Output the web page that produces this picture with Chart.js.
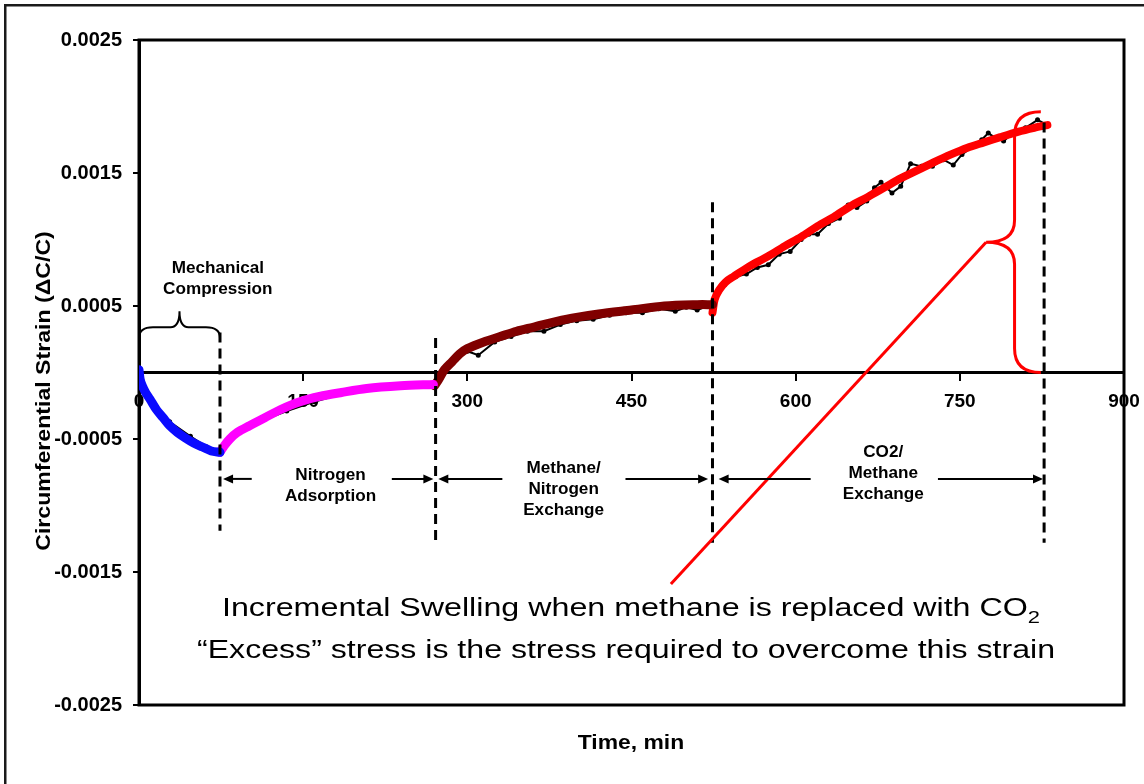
<!DOCTYPE html>
<html>
<head>
<meta charset="utf-8">
<script src="https://cdn.jsdelivr.net/npm/chart.js@4.4.1/dist/chart.umd.min.js"></script>
<style>
  html, body { margin: 0; padding: 0; background: #fff; }
  #wrap { width: 1144px; height: 784px; position: relative; }
</style>
</head>
<body>
<div id="wrap"><canvas id="strainChart"></canvas></div>
<script>
// fitted curves, one per test phase (time in min, strain dC/C)
const blueTime = [0, 1, 3, 6, 10, 16, 22, 28, 35, 42, 50, 58, 66, 74];
const blueStrain = [0.00002, -0.00005, -0.0001, -0.00015, -0.0002, -0.00028, -0.00034, -0.0004, -0.00045, -0.00049, -0.00053, -0.00056, -0.00059, -0.0006];

const magentaTime = [74, 78, 83, 90, 101, 115, 129, 147, 165, 185, 208, 239, 269];
const magentaStrain = [-0.0006, -0.00055, -0.0005, -0.00045, -0.0004, -0.00034, -0.00028, -0.00022, -0.00018, -0.00015, -0.00012, -0.0001, -0.00009];

const maroonTime = [270, 274, 279, 286, 293, 300, 315, 330, 345, 360, 390, 420, 450, 480, 510, 524];
const maroonStrain = [-0.0001, -0.00005, 0.00002, 0.00008, 0.00014, 0.00018, 0.00023, 0.00027, 0.00031, 0.00034, 0.0004, 0.00044, 0.00047, 0.0005, 0.00051, 0.00051];

const redTime = [524, 526, 530, 536, 543, 558, 574, 590, 605, 620, 635, 650, 666, 681, 696, 711, 726, 742, 757, 772, 787, 803, 818, 830];
const redStrain = [0.00045, 0.00055, 0.00062, 0.00068, 0.00072, 0.0008, 0.00087, 0.00095, 0.00102, 0.0011, 0.00117, 0.00125, 0.00132, 0.00139, 0.00146, 0.00152, 0.00158, 0.00164, 0.00169, 0.00173, 0.00177, 0.00181, 0.00184, 0.00186];

// measured (noisy) data
const measTime = [0, 4, 12, 28, 47, 62, 74, 90, 110, 135, 160, 190, 220, 250, 268, 272, 280, 290, 300, 310, 325, 340, 355, 370, 385, 400, 415, 430, 445, 460, 475, 490, 500, 510, 520, 524, 528, 535, 545, 555, 565, 575, 585, 595, 605, 612, 620, 630, 640, 648, 656, 665, 672, 678, 688, 696, 705, 715, 725, 735, 744, 752, 762, 770, 776, 783, 790, 800, 810, 821, 830];
const measStrain = [0, -0.00012, -0.00024, -0.00037, -0.00048, -0.00056, -0.0006, -0.00046, -0.00037, -0.00029, -0.00022, -0.00015, -0.00012, -0.0001, -0.00009, -0.00009, 0.00002, 0.0001, 0.00016, 0.00013, 0.00023, 0.00027, 0.00031, 0.00031, 0.00036, 0.00039, 0.0004, 0.00043, 0.00045, 0.00045, 0.00048, 0.00046, 0.00049, 0.00047, 0.0005, 0.0005, 0.00058, 0.00066, 0.00072, 0.00074, 0.00079, 0.00081, 0.00089, 0.00091, 0.001, 0.00104, 0.00104, 0.00112, 0.00116, 0.00126, 0.00124, 0.00129, 0.00139, 0.00143, 0.00135, 0.0014, 0.00157, 0.00155, 0.00155, 0.0016, 0.00156, 0.00164, 0.0017, 0.00175, 0.0018, 0.00176, 0.00174, 0.00181, 0.00184, 0.0019, 0.00186];

// phase boundaries (dashed lines)
const phaseTimes = [74, 271, 524, 827];
const phaseTop = [0.0003, 0.00026, 0.00128, 0.00188];
const phaseBottom = [-0.00119, -0.00127, -0.00128, -0.00128];

// phase labels and their arrows
const phaseLabels = [['Nitrogen', 'Adsorption'], ['Methane/', 'Nitrogen', 'Exchange'], ['CO2/', 'Methane', 'Exchange']];
const phaseLabelTime = [175, 388, 680];
const phaseLabelStrain = [-0.000856, -0.000878, -0.000758];
const arrowFrom = [103, 231, 332, 444.5, 613.7, 730];
const arrowTip = [76.8, 269, 273.5, 520, 529.6, 826];
const arrowStrain = -0.0008;

// red pointer from the note to the swelling brace
const pointerTime = [486, 774];
const pointerStrain = [-0.00159, 0.00098];

const yTickValues = [-0.0025, -0.0015, -0.0005, 0.0005, 0.0015, 0.0025];

const FONT = '"Liberation Sans", Arial, sans-serif';

const toPoints = (xs, ys) => xs.map((x, i) => ({ x: x, y: ys[i] }));

const fitLine = (data, color, width) => ({
  data: data,
  showLine: true,
  borderColor: color,
  borderWidth: width,
  borderCapStyle: 'round',
  borderJoinStyle: 'round',
  pointRadius: 0,
  tension: 0.3,
  order: 1
});

const drawStretched = (ctx, text, x, y, font, sx, align) => {
  ctx.save();
  ctx.font = font;
  ctx.textBaseline = 'middle';
  ctx.textAlign = align || 'center';
  ctx.translate(x, y);
  ctx.scale(sx, 1);
  ctx.fillText(text, 0, 0);
  ctx.restore();
};

const drawArrow = (ctx, fromX, tipX, y) => {
  const dir = tipX > fromX ? 1 : -1;
  ctx.beginPath();
  ctx.moveTo(fromX, y);
  ctx.lineTo(tipX - dir * 6, y);
  ctx.stroke();
  ctx.beginPath();
  ctx.moveTo(tipX, y);
  ctx.lineTo(tipX - dir * 10, y - 4.5);
  ctx.lineTo(tipX - dir * 10, y + 4.5);
  ctx.closePath();
  ctx.fill();
};

const pageFrame = {
  id: 'pageFrame',
  beforeDraw(chart) {
    const { ctx } = chart;
    ctx.save();
    ctx.fillStyle = '#fff';
    ctx.fillRect(0, 0, chart.width, chart.height);
    ctx.fillStyle = '#1a1a1a';
    ctx.fillRect(4, 4, chart.width - 4, 2.5);
    ctx.fillRect(4, 4, 2.5, chart.height - 4);
    ctx.restore();
  },
  beforeDatasetsDraw(chart) {
    const { ctx, chartArea } = chart;
    ctx.save();
    ctx.strokeStyle = '#000';
    ctx.lineWidth = 3;
    ctx.strokeRect(chartArea.left, chartArea.top, chartArea.right - chartArea.left, chartArea.bottom - chartArea.top);
    ctx.restore();
  }
};

const annotations = {
  id: 'annotations',
  afterDatasetsDraw(chart) {
    const { ctx } = chart;
    const x = chart.scales.x;
    const y = chart.scales.y;
    ctx.save();
    ctx.fillStyle = '#000';
    ctx.strokeStyle = '#000';
    ctx.lineWidth = 2;

    // arrows between the phase boundaries
    arrowFrom.forEach((t, i) => {
      drawArrow(ctx, x.getPixelForValue(t), x.getPixelForValue(arrowTip[i]), y.getPixelForValue(arrowStrain));
    });

    // phase labels
    phaseLabels.forEach((lines, i) => {
      const cx = x.getPixelForValue(phaseLabelTime[i]);
      const cy = y.getPixelForValue(phaseLabelStrain[i]);
      lines.forEach((line, j) => {
        drawStretched(ctx, line, cx, cy + (j - (lines.length - 1) / 2) * 21, 'bold 16px ' + FONT, 1.07);
      });
    });

    // brace over the mechanical compression step
    const bx0 = x.getPixelForValue(0);
    const bx1 = x.getPixelForValue(74);
    const bxm = x.getPixelForValue(37);
    const byEnd = y.getPixelForValue(0.00026);
    const byBase = y.getPixelForValue(0.00034);
    const byPeak = y.getPixelForValue(0.00046);
    ctx.beginPath();
    ctx.moveTo(bx0, byEnd);
    ctx.quadraticCurveTo(bx0, byBase, bx0 + 14, byBase);
    ctx.lineTo(bxm - 9, byBase);
    ctx.quadraticCurveTo(bxm, byBase, bxm, byPeak);
    ctx.quadraticCurveTo(bxm, byBase, bxm + 9, byBase);
    ctx.lineTo(bx1 - 14, byBase);
    ctx.quadraticCurveTo(bx1, byBase, bx1, byEnd);
    ctx.stroke();
    drawStretched(ctx, 'Mechanical', x.getPixelForValue(72), y.getPixelForValue(0.000781), 'bold 16px ' + FONT, 1.07);
    drawStretched(ctx, 'Compression', x.getPixelForValue(72), y.getPixelForValue(0.000623), 'bold 16px ' + FONT, 1.07);

    // red brace marking the incremental swelling
    const rxR = x.getPixelForValue(824);
    const rxS = x.getPixelForValue(800);
    const rxT = x.getPixelForValue(774);
    const ryT = y.getPixelForValue(0.00196);
    const ryM = y.getPixelForValue(0.00098);
    const ryB = y.getPixelForValue(0);
    ctx.strokeStyle = '#ff0000';
    ctx.lineWidth = 3;
    ctx.beginPath();
    ctx.moveTo(rxR, ryT);
    ctx.quadraticCurveTo(rxS, ryT, rxS, ryT + 24);
    ctx.lineTo(rxS, ryM - 22);
    ctx.quadraticCurveTo(rxS, ryM, rxT, ryM);
    ctx.quadraticCurveTo(rxS, ryM, rxS, ryM + 22);
    ctx.lineTo(rxS, ryB - 24);
    ctx.quadraticCurveTo(rxS, ryB, rxR, ryB);
    ctx.stroke();

    // note under the curves
    ctx.fillStyle = '#000';
    ctx.textBaseline = 'alphabetic';
    ctx.textAlign = 'left';
    const main1 = 'Incremental Swelling when methane is replaced with CO';
    const main2 = '\u201CExcess\u201D stress is the stress required to overcome this strain';
    ctx.font = '25px ' + FONT;
    const w1 = ctx.measureText(main1).width;
    const w2 = ctx.measureText(main2).width;
    ctx.font = '17px ' + FONT;
    const wSub = ctx.measureText('2').width;
    const sx1 = 818 / (w1 + wSub);
    const sx2 = 858 / w2;
    ctx.save();
    ctx.translate(222, 616);
    ctx.scale(sx1, 1);
    ctx.font = '25px ' + FONT;
    ctx.fillText(main1, 0, 0);
    ctx.font = '17px ' + FONT;
    ctx.fillText('2', w1, 7);
    ctx.restore();
    ctx.save();
    ctx.translate(197, 658);
    ctx.scale(sx2, 1);
    ctx.font = '25px ' + FONT;
    ctx.fillText(main2, 0, 0);
    ctx.restore();

    // axis titles
    drawStretched(ctx, 'Time, min', 631, 743, 'bold 21px ' + FONT, 1.09);
    ctx.save();
    ctx.translate(44, 391);
    ctx.rotate(-Math.PI / 2);
    drawStretched(ctx, 'Circumferential Strain (\u0394C/C)', 0, 0, 'bold 21px ' + FONT, 1.1);
    ctx.restore();

    ctx.restore();
  }
};

const datasets = [
  fitLine(toPoints(blueTime, blueStrain), '#0a0aff', 9),
  fitLine(toPoints(magentaTime, magentaStrain), '#ff00ff', 9),
  fitLine(toPoints(maroonTime, maroonStrain), '#800000', 9),
  fitLine(toPoints(redTime, redStrain), '#ff0000', 8),
  {
    data: toPoints(measTime, measStrain),
    showLine: true,
    borderColor: '#000',
    borderWidth: 2,
    pointRadius: 1.5,
    pointBackgroundColor: '#000',
    pointBorderColor: '#000',
    order: 2
  },
  {
    data: toPoints(pointerTime, pointerStrain),
    showLine: true,
    borderColor: '#ff0000',
    borderWidth: 3,
    pointRadius: 0,
    order: 0
  }
];

phaseTimes.forEach((t, i) => {
  datasets.push({
    data: [{ x: t, y: phaseTop[i] }, { x: t, y: phaseBottom[i] }],
    showLine: true,
    borderColor: '#000',
    borderWidth: 3,
    borderDash: [10, 6],
    pointRadius: 0,
    order: 0
  });
});

new Chart(document.getElementById('strainChart'), {
  type: 'scatter',
  data: { datasets: datasets },
  plugins: [pageFrame, annotations],
  options: {
    responsive: true,
    maintainAspectRatio: false,
    animation: false,
    layout: { padding: { left: 0, top: 40, right: 20, bottom: 79 } },
    plugins: {
      legend: { display: false },
      tooltip: { enabled: false }
    },
    scales: {
      x: {
        type: 'linear',
        min: 0,
        max: 900,
        position: { y: 0 },
        afterFit: (scale) => {
          scale.paddingLeft = 0;
          scale.paddingRight = 0;
        },
        ticks: {
          stepSize: 150,
          color: '#000',
          padding: 11,
          font: { family: FONT, size: 19, weight: 'bold' },
          maxRotation: 0
        },
        grid: { drawOnChartArea: false, drawTicks: true, tickLength: 7, color: '#000', lineWidth: 2 },
        border: { display: true, color: '#000', width: 3 }
      },
      y: {
        type: 'linear',
        min: -0.0025,
        max: 0.0025,
        afterBuildTicks: (scale) => {
          scale.ticks = yTickValues.map((v) => ({ value: v }));
        },
        afterFit: (scale) => {
          scale.width = 139;
        },
        ticks: {
          color: '#000',
          padding: 11,
          font: { family: FONT, size: 20, weight: 'bold' },
          callback: (v) => Number(v).toFixed(4)
        },
        grid: { drawOnChartArea: false, drawTicks: true, tickLength: 6, color: '#000', lineWidth: 2 },
        border: { display: true, color: '#000', width: 3 }
      }
    }
  }
});
</script>
</body>
</html>
